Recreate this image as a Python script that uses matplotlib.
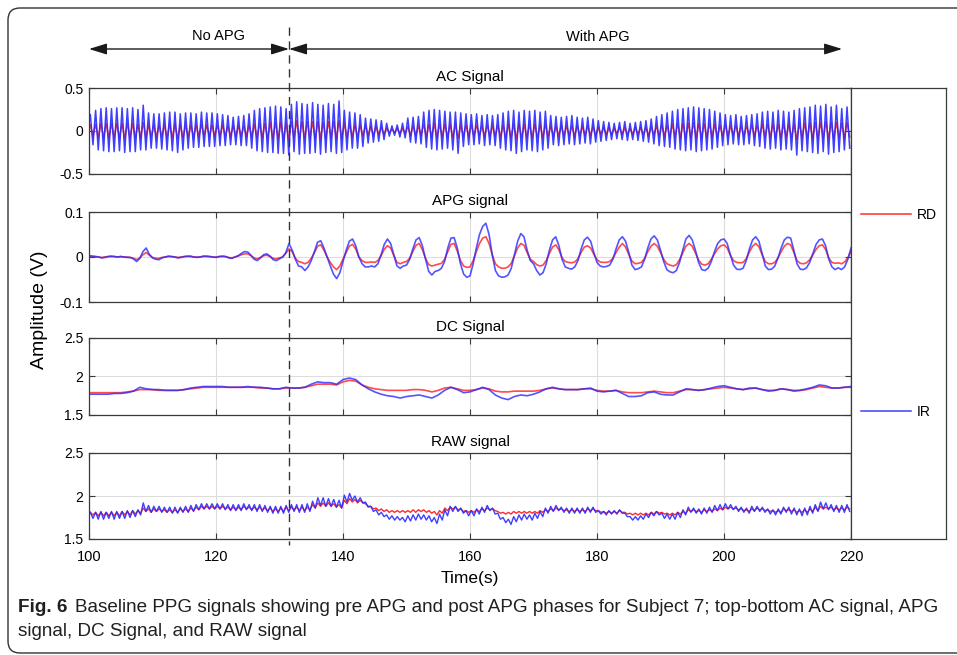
import numpy as np
import matplotlib
matplotlib.use("Agg")
import matplotlib.pyplot as plt
import matplotlib.transforms as mtransforms
from matplotlib.lines import Line2D
from matplotlib.patches import FancyBboxPatch

plt.rcParams['font.family'] = ['Liberation Sans', 'DejaVu Sans']

# ---- data ----
t_start, t_end = 100, 220
apg_onset = 131.5          # dashed line: start of APG phase
arrow_end = 218.6          # end of the "With APG" arrow

# AC signal, one peak and one trough per heartbeat (144 beats, 1/100 V)
ac_ir_peak = [19, 24, 26, 27, 26, 27, 27, 26, 27, 25, 30, 21,
              20, 20, 21, 22, 22, 20, 21, 21, 20, 22, 21, 21,
              20, 19, 18, 16, 17, 18, 20, 24, 26, 27, 28, 29,
              28, 26, 31, 34, 32, 31, 33, 31, 30, 32, 31, 35,
              24, 22, 21, 19, 15, 14, 13, 12, 9, 6, 7, 9,
              15, 16, 17, 22, 24, 25, 24, 23, 22, 22, 21, 20,
              19, 20, 18, 19, 18, 19, 21, 23, 24, 22, 24, 23,
              24, 22, 23, 18, 17, 16, 17, 18, 16, 15, 16, 14,
              12, 11, 10, 9, 10, 11, 9, 10, 11, 12, 14, 17,
              19, 21, 23, 25, 26, 27, 28, 27, 26, 25, 23, 21,
              19, 18, 19, 17, 18, 19, 20, 22, 23, 22, 24, 23,
              22, 24, 26, 27, 28, 30, 29, 31, 28, 30, 26, 28]
ac_ir_trough = [-16, -22, -23, -24, -24, -23, -25, -24, -24, -22, -22, -20,
                -20, -21, -22, -23, -25, -22, -20, -19, -19, -18, -18, -18,
                -17, -17, -16, -16, -17, -17, -20, -23, -24, -25, -25, -26,
                -26, -28, -24, -27, -26, -26, -25, -27, -25, -24, -26, -25,
                -22, -20, -20, -18, -14, -13, -12, -10, -6, -5, -7, -8,
                -13, -14, -15, -19, -21, -22, -21, -20, -22, -26, -18, -16,
                -16, -15, -17, -16, -17, -20, -22, -23, -26, -24, -22, -23,
                -24, -22, -20, -16, -17, -16, -15, -16, -15, -14, -15, -13,
                -12, -11, -10, -9, -10, -11, -10, -11, -12, -13, -15, -17,
                -18, -19, -21, -22, -23, -22, -24, -23, -22, -21, -19, -17,
                -16, -15, -16, -16, -15, -17, -18, -20, -21, -20, -22, -21,
                -22, -28, -23, -24, -25, -26, -24, -27, -25, -24, -22, -20]
ac_rd_peak = [7, 8, 9, 9, 9, 9, 9, 9, 9, 8, 10, 7,
              7, 7, 7, 8, 8, 7, 7, 7, 7, 8, 7, 7,
              7, 7, 6, 6, 6, 6, 7, 8, 9, 9, 10, 10,
              10, 9, 11, 12, 11, 11, 11, 11, 10, 11, 11, 12,
              9, 8, 7, 7, 6, 5, 5, 4, 3, 2, 3, 3,
              5, 6, 6, 8, 8, 9, 8, 8, 8, 8, 7, 7,
              7, 7, 6, 7, 6, 7, 7, 8, 8, 8, 8, 8,
              8, 8, 8, 6, 6, 6, 6, 6, 6, 5, 6, 5,
              4, 4, 4, 3, 4, 4, 3, 4, 4, 4, 5, 6,
              7, 7, 8, 9, 9, 9, 10, 9, 9, 9, 8, 7,
              7, 6, 7, 6, 6, 7, 7, 8, 8, 8, 8, 8,
              8, 8, 9, 9, 10, 10, 10, 11, 10, 10, 9, 10]
ac_rd_trough = [-6, -8, -8, -9, -8, -8, -9, -8, -8, -8, -8, -7,
                -7, -7, -8, -8, -9, -8, -7, -7, -7, -6, -6, -6,
                -6, -6, -6, -6, -6, -6, -7, -8, -8, -9, -9, -9,
                -9, -10, -8, -9, -9, -9, -9, -9, -9, -8, -9, -9,
                -8, -7, -7, -6, -5, -5, -4, -4, -2, -2, -3, -3,
                -5, -5, -5, -7, -7, -8, -7, -7, -8, -9, -6, -6,
                -6, -5, -6, -6, -6, -7, -8, -8, -9, -8, -8, -8,
                -8, -8, -7, -6, -6, -6, -5, -6, -5, -5, -5, -5,
                -4, -4, -4, -3, -4, -4, -4, -4, -4, -5, -5, -6,
                -6, -7, -7, -8, -8, -8, -8, -8, -8, -7, -7, -6,
                -6, -5, -6, -6, -5, -6, -6, -7, -7, -7, -8, -7,
                -8, -10, -8, -8, -9, -9, -8, -9, -9, -8, -8, -7]

# APG signal, sampled every 0.5 s from 100 to 220 s (1/1000 V)
apg_ir = [3, 2, 1, 0, -2, -1, 1, 2, 1, 0,
          1, 0, -1, -1, -4, -10, -3, 12, 20, 6,
          -2, -5, -6, -2, 0, 2, 1, 0, -2, -1,
          1, 2, 2, 0, -1, 0, 2, 2, 1, 0,
          -1, 1, 2, 1, -2, -3, 0, 3, 8, 12,
          11, 4, -5, -8, -2, 5, 7, 2, -6, -8,
          -4, 0, 10, 30, 15, -5, -20, -22, -30, -22,
          -8, 12, 33, 36, 20, 0, -20, -38, -48, -35,
          -10, 15, 35, 40, 25, 0, -15, -22, -22, -20,
          -22, -15, 5, 28, 40, 30, 5, -20, -25, -20,
          -18, -5, 18, 38, 43, 25, -5, -32, -40, -32,
          -30, -25, -10, 20, 42, 43, 20, -15, -38, -45,
          -42, -15, 20, 50, 68, 75, 50, 5, -30, -42,
          -45, -44, -40, -25, 5, 35, 52, 45, 15, -8,
          -15, -30, -40, -35, -15, 15, 38, 45, 25, -5,
          -22, -25, -27, -22, -8, 18, 38, 44, 35, 10,
          -12, -20, -22, -21, -18, -5, 18, 38, 45, 35,
          10, -18, -28, -26, -22, -5, 20, 40, 47, 38,
          15, -10, -28, -33, -35, -30, -12, 15, 40, 48,
          38, 15, -12, -28, -30, -25, -10, 12, 30, 38,
          40, 30, 5, -18, -27, -28, -25, -8, 18, 38,
          45, 35, 8, -20, -28, -27, -20, -2, 20, 38,
          44, 42, 15, -15, -27, -28, -24, -12, 8, 28,
          38, 40, 25, -5, -22, -28, -24, -28, -22, -5,
          20]
apg_rd = [2, 1, 1, 0, -1, 0, 1, 1, 1, 0,
          1, 0, 0, -1, -3, -6, -2, 5, 10, 4,
          -1, -3, -3, -1, 0, 1, 1, 0, -1, 0,
          1, 1, 1, 0, 0, 0, 1, 1, 1, 0,
          0, 1, 1, 1, -1, -2, 0, 2, 5, 7,
          7, 3, -2, -4, -1, 3, 4, 1, -3, -4,
          -2, 0, 8, 18, 12, -3, -10, -12, -15, -12,
          -3, 10, 24, 27, 15, 0, -12, -22, -28, -20,
          -5, 10, 24, 28, 18, 0, -8, -12, -12, -11,
          -12, -8, 3, 17, 25, 20, 3, -12, -15, -12,
          -10, -3, 12, 26, 30, 16, -3, -17, -20, -18,
          -16, -14, -5, 12, 28, 30, 13, -8, -20, -23,
          -22, -8, 12, 30, 42, 45, 30, 5, -15, -22,
          -25, -25, -22, -14, 3, 20, 30, 26, 10, -5,
          -10, -17, -20, -18, -8, 8, 22, 27, 16, -2,
          -10, -12, -13, -11, -4, 10, 22, 25, 20, 6,
          -6, -11, -12, -12, -10, -3, 10, 22, 30, 22,
          6, -9, -15, -14, -12, -3, 12, 24, 30, 24,
          10, -5, -15, -18, -20, -17, -6, 9, 24, 30,
          24, 9, -7, -16, -18, -15, -5, 7, 18, 25,
          27, 20, 4, -8, -12, -13, -12, -4, 11, 24,
          30, 23, 5, -10, -15, -15, -12, -2, 12, 24,
          30, 27, 10, -8, -14, -15, -13, -6, 5, 17,
          25, 27, 17, -2, -12, -14, -13, -15, -11, -2,
          12]

# DC signal, one value per second from 100 to 220 s (1/100 V)
dc_ir = [177, 177, 177, 177, 178, 178, 179, 181, 186, 184,
         183, 183, 182, 182, 182, 183, 185, 186, 187, 187,
         187, 187, 186, 186, 186, 187, 186, 186, 185, 184,
         184, 186, 185, 185, 186, 190, 193, 192, 192, 190,
         196, 198, 196, 189, 184, 180, 177, 175, 174, 172,
         174, 175, 176, 174, 172, 176, 182, 186, 183, 179,
         180, 183, 186, 183, 176, 172, 170, 174, 176, 175,
         177, 180, 184, 186, 184, 183, 183, 183, 184, 185,
         181, 180, 181, 182, 178, 174, 174, 175, 179, 180,
         177, 176, 176, 180, 184, 183, 182, 183, 185, 187,
         188, 186, 184, 183, 185, 185, 183, 181, 182, 184,
         183, 181, 182, 184, 186, 189, 188, 185, 185, 186,
         187]
dc_rd = [179, 179, 179, 179, 179, 179, 180, 181, 183, 183,
         183, 182, 182, 182, 182, 183, 184, 185, 186, 186,
         186, 186, 186, 186, 186, 186, 186, 185, 185, 184,
         184, 185, 185, 185, 186, 188, 190, 190, 190, 189,
         193, 195, 194, 189, 186, 184, 183, 182, 182, 182,
         182, 183, 183, 182, 180, 182, 185, 186, 184, 182,
         182, 183, 185, 184, 181, 180, 180, 181, 181, 181,
         181, 182, 184, 185, 184, 183, 183, 183, 184, 184,
         182, 181, 181, 182, 180, 179, 179, 179, 180, 181,
         180, 179, 179, 181, 183, 183, 182, 183, 184, 185,
         186, 185, 184, 183, 184, 185, 183, 182, 182, 184,
         183, 182, 182, 183, 185, 187, 186, 185, 185, 186,
         186]

# RAW signal, highest and lowest value of each heartbeat (1/100 V)
raw_ir_max = [181, 181, 182, 181, 182, 182, 182, 183, 183, 184, 192, 189,
              188, 188, 187, 187, 187, 187, 188, 189, 190, 191, 191, 191,
              191, 191, 190, 190, 190, 191, 190, 190, 190, 189, 188, 188,
              188, 189, 190, 190, 190, 191, 194, 198, 198, 197, 196, 195,
              201, 203, 200, 198, 193, 188, 184, 181, 178, 177, 176, 175,
              177, 178, 179, 178, 177, 175, 179, 184, 188, 188, 186, 183,
              183, 185, 187, 189, 186, 180, 175, 173, 176, 178, 179, 178,
              180, 182, 186, 188, 189, 187, 186, 186, 186, 186, 187, 187,
              183, 182, 183, 183, 184, 180, 176, 176, 177, 179, 181, 182,
              180, 179, 179, 181, 184, 187, 186, 185, 186, 187, 189, 190,
              191, 190, 188, 187, 186, 188, 188, 187, 185, 184, 185, 187,
              187, 186, 185, 186, 188, 190, 193, 192, 190, 189, 189, 190]
raw_ir_min = [174, 173, 173, 174, 173, 174, 174, 175, 176, 178, 182, 181,
              182, 181, 181, 180, 180, 181, 181, 182, 184, 185, 185, 185,
              185, 184, 183, 183, 183, 184, 183, 182, 182, 181, 180, 180,
              180, 181, 182, 181, 181, 182, 186, 189, 188, 188, 187, 186,
              193, 195, 193, 192, 187, 182, 178, 176, 173, 172, 172, 170,
              171, 172, 173, 172, 170, 168, 172, 177, 182, 182, 180, 177,
              177, 179, 181, 183, 179, 173, 169, 167, 170, 172, 173, 172,
              174, 176, 180, 182, 183, 181, 180, 180, 180, 180, 181, 181,
              179, 178, 179, 179, 180, 176, 172, 172, 173, 175, 177, 178,
              174, 173, 173, 175, 178, 181, 180, 179, 180, 181, 183, 184,
              185, 184, 182, 181, 180, 182, 182, 181, 179, 178, 179, 181,
              179, 178, 177, 178, 180, 182, 185, 184, 182, 181, 181, 182]
raw_rd_max = [181, 181, 181, 181, 181, 181, 182, 182, 183, 183, 186, 185,
              185, 185, 184, 184, 184, 185, 185, 186, 187, 188, 188, 188,
              188, 188, 187, 187, 187, 188, 187, 187, 187, 186, 186, 185,
              186, 187, 187, 187, 187, 187, 190, 192, 192, 192, 191, 190,
              195, 197, 196, 195, 191, 188, 186, 185, 184, 183, 183, 183,
              183, 184, 184, 184, 183, 182, 183, 186, 187, 187, 185, 183,
              183, 184, 185, 186, 185, 182, 181, 181, 182, 182, 182, 182,
              182, 183, 184, 185, 186, 185, 184, 184, 184, 184, 185, 185,
              183, 182, 182, 182, 183, 181, 180, 180, 180, 180, 181, 182,
              181, 180, 180, 181, 182, 184, 184, 183, 184, 184, 185, 186,
              187, 187, 186, 185, 184, 185, 186, 185, 184, 183, 183, 185,
              184, 184, 183, 184, 185, 187, 188, 187, 187, 186, 186, 187]
raw_rd_min = [178, 177, 177, 177, 177, 177, 178, 178, 179, 180, 182, 181,
              182, 182, 181, 181, 181, 182, 182, 183, 184, 185, 185, 185,
              185, 185, 184, 184, 184, 185, 184, 184, 184, 183, 182, 182,
              182, 183, 184, 183, 183, 184, 186, 188, 188, 188, 187, 186,
              191, 193, 192, 192, 188, 185, 183, 182, 181, 181, 181, 181,
              181, 181, 182, 181, 180, 178, 180, 183, 185, 184, 182, 181,
              181, 182, 183, 184, 183, 180, 179, 179, 180, 180, 180, 180,
              180, 181, 182, 183, 184, 183, 182, 182, 182, 182, 183, 183,
              181, 180, 180, 180, 181, 179, 178, 178, 178, 178, 179, 180,
              179, 178, 178, 179, 180, 182, 182, 181, 182, 182, 183, 184,
              185, 185, 184, 183, 182, 183, 184, 183, 182, 181, 181, 183,
              182, 181, 181, 181, 182, 183, 185, 185, 184, 184, 184, 185]

x_ticks = [100, 120, 140, 160, 180, 200, 220]
ac_ticks = [-0.5, 0, 0.5]
apg_ticks = [-0.1, 0, 0.1]
level_ticks = [1.5, 2, 2.5]
titles = ['AC Signal', 'APG signal', 'DC Signal', 'RAW signal']


def beat_trace(hi, lo, scale):
    # interleave per-beat peaks and troughs along the time axis
    n = len(hi)
    period = (t_end - t_start) / n
    tp = t_start + (np.arange(n) + 0.25) * period
    t = np.column_stack([tp, tp + 0.5 * period]).ravel()
    v = np.column_stack([hi, lo]).ravel() / scale
    return t, v


W, H = 957, 655
fig = plt.figure(figsize=(W / 100, H / 100), dpi=100)


def box(x0, y0, x1, y1):
    return [x0 / W, 1 - y1 / H, (x1 - x0) / W, (y1 - y0) / H]


RED = '#ff2b2b'
BLUE = '#2a2aff'
EDGE = '#3a3a3a'

ax_ac = fig.add_axes(box(89, 88, 851, 174))
ax_apg = fig.add_axes(box(89, 212, 851, 302))
ax_dc = fig.add_axes(box(89, 338, 851, 415))
ax_raw = fig.add_axes(box(89, 453, 851, 539))
axes = [ax_ac, ax_apg, ax_dc, ax_raw]

t, v = beat_trace(ac_rd_peak, ac_rd_trough, 100)
h_rd, = ax_ac.plot(t, v, color=RED, lw=1.1)
t, v = beat_trace(ac_ir_peak, ac_ir_trough, 100)
h_ir, = ax_ac.plot(t, v, color=BLUE, lw=1.1, alpha=0.9)

t_apg = np.linspace(t_start, t_end, len(apg_ir))
ax_apg.plot(t_apg, np.array(apg_rd) / 1000, color=RED, lw=1.2, alpha=0.85)
ax_apg.plot(t_apg, np.array(apg_ir) / 1000, color=BLUE, lw=1.2, alpha=0.8)

t_dc = np.linspace(t_start, t_end, len(dc_ir))
ax_dc.plot(t_dc, np.array(dc_rd) / 100, color=RED, lw=1.2, alpha=0.85)
ax_dc.plot(t_dc, np.array(dc_ir) / 100, color=BLUE, lw=1.2, alpha=0.8)

t, v = beat_trace(raw_rd_max, raw_rd_min, 100)
ax_raw.plot(t, v, color=RED, lw=1.0)
t, v = beat_trace(raw_ir_max, raw_ir_min, 100)
ax_raw.plot(t, v, color=BLUE, lw=1.0, alpha=0.9)

for ax, title, ticks in zip(axes, titles, [ac_ticks, apg_ticks, level_ticks, level_ticks]):
    ax.set_xlim(t_start, t_end)
    ax.set_ylim(ticks[0], ticks[-1])
    ax.set_yticks(ticks)
    ax.set_yticklabels([f'{v:g}' for v in ticks])
    ax.set_xticks(x_ticks)
    ax.grid(True, color='#dddddd', lw=0.8)
    ax.set_axisbelow(True)
    ax.tick_params(direction='in', top=True, right=True, length=4,
                   color=EDGE, labelsize=10, pad=4)
    for s in ax.spines.values():
        s.set_color(EDGE)
        s.set_linewidth(0.9)
    ax.set_title(title, fontsize=11, pad=5)
    if ax is not ax_raw:
        ax.set_xticklabels([])
ax_raw.tick_params(axis='x', labelsize=10.5, pad=8)

# legend panel on the right
ax_leg = fig.add_axes(box(851, 88, 946, 539))
ax_leg.set_xticks([])
ax_leg.set_yticks([])
for s in ax_leg.spines.values():
    s.set_color(EDGE)
    s.set_linewidth(0.9)
kw = dict(frameon=False, loc='center left', borderpad=0, borderaxespad=0,
          handlelength=3.6, handletextpad=0.4, fontsize=10)
leg1 = ax_leg.legend([h_rd], ['RD'], bbox_to_anchor=(0.105, 0.718), **kw)
ax_leg.add_artist(leg1)
ax_leg.legend([h_ir], ['IR'], bbox_to_anchor=(0.105, 0.282), **kw)

# phase marker and arrows
tr = mtransforms.blended_transform_factory(ax_raw.transData, fig.transFigure)
fig.add_artist(Line2D([apg_onset, apg_onset], [1 - 27 / H, 1 - 545 / H], transform=tr,
                      color='#333333', lw=1.0, ls=(0, (6, 4)), zorder=10))
y_arr = 1 - 49 / H
aprops = dict(arrowstyle='<|-|>,head_length=0.9,head_width=0.28', color='#1a1a1a',
              lw=1.0, mutation_scale=12, shrinkA=0, shrinkB=0)
fig.add_artist(matplotlib.patches.FancyArrowPatch((t_start, y_arr), (apg_onset, y_arr),
                                                  transform=tr, **aprops))
fig.add_artist(matplotlib.patches.FancyArrowPatch((apg_onset, y_arr), (arrow_end, y_arr),
                                                  transform=tr, **aprops))
fig.text(218 / W, 1 - 36 / H, 'No APG', ha='center', va='center', fontsize=10.5)
fig.text(598 / W, 1 - 37 / H, 'With APG', ha='center', va='center', fontsize=10.5)

fig.text(40 / W, 1 - 310 / H, 'Amplitude (V)', rotation=90, ha='center', va='center',
         fontsize=14)
fig.text(470 / W, 1 - 578 / H, 'Time(s)', ha='center', va='center', fontsize=12.5)

# caption
cap_font = ['Liberation Sans Narrow', 'Liberation Sans', 'DejaVu Sans']
c1 = fig.text(18 / W, 1 - 608 / H, 'Fig. 6', fontweight='bold', family=cap_font,
              fontsize=13.6, va='center', color='#231f20')
fig.canvas.draw()
bb = c1.get_window_extent(fig.canvas.get_renderer())
fig.text((bb.x1 + 8) / W, 1 - 608 / H,
         'Baseline PPG signals showing pre APG and post APG phases for Subject 7; '
         'top-bottom AC signal, APG', family=cap_font, fontsize=13.6, va='center',
         color='#231f20')
fig.text(18 / W, 1 - 632 / H, 'signal, DC Signal, and RAW signal', family=cap_font,
         fontsize=13.6, va='center', color='#231f20')

# rounded frame of the figure panel
frame = FancyBboxPatch((0.08, 0.02), 10.0, 6.45,
                       boxstyle='round,pad=0,rounding_size=0.12',
                       transform=fig.dpi_scale_trans, fill=False,
                       edgecolor='#333333', lw=1.0)
fig.add_artist(frame)

fig.savefig('out.png', dpi=100)
